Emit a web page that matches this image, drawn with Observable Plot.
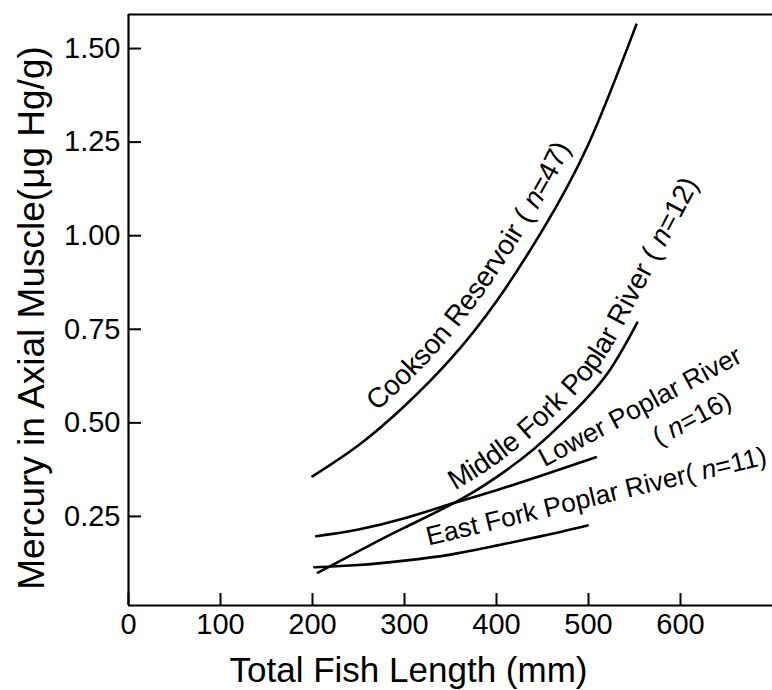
<!DOCTYPE html>
<html>
<head>
<meta charset="utf-8">
<script src="https://cdn.jsdelivr.net/npm/d3@7"></script>
<script src="https://cdn.jsdelivr.net/npm/@observablehq/plot@0.6"></script>
<style>
  html, body { margin: 0; padding: 0; background: #fff; }
  svg { display: block; }
</style>
</head>
<body>
<div id="chart"></div>
<script>
// ---- data ----
const cooksonLength = [200, 250, 300, 350, 400, 450, 500, 552];
const cooksonHg     = [0.357, 0.44, 0.545, 0.67, 0.825, 1.015, 1.245, 1.564];

const middleForkLength = [206, 260, 300, 357, 400, 440, 480, 520, 553];
const middleForkHg     = [0.10, 0.17, 0.22, 0.29, 0.355, 0.429, 0.52, 0.63, 0.768];

const lowerPoplarLength = [204, 250, 300, 350, 400, 450, 508];
const lowerPoplarHg     = [0.197, 0.215, 0.245, 0.283, 0.32, 0.36, 0.408];

const eastForkLength = [202, 250, 300, 350, 400, 450, 499];
const eastForkHg     = [0.114, 0.12, 0.132, 0.148, 0.172, 0.198, 0.226];

const xTicks = [0, 100, 200, 300, 400, 500, 600];
const yTicks = [0.25, 0.50, 0.75, 1.00, 1.25, 1.50];

const xTitle = "Total Fish Length (mm)";
const yTitle = "Mercury in Axial Muscle(\u03bcg Hg/g)";

// ---- build table ----
const toRows = (name, L, H) => L.map((l, i) => ({name, length: l, hg: H[i]}));
const rows = [
  ...toRows("Cookson", cooksonLength, cooksonHg),
  ...toRows("Middle", middleForkLength, middleForkHg),
  ...toRows("Lower", lowerPoplarLength, lowerPoplarHg),
  ...toRows("East", eastForkLength, eastForkHg)
];

const FONT = "'Liberation Sans', Arial, Helvetica, sans-serif";
const W = 772, H = 690, ML = 128, MR = 0, MT = 14, MB = 85;
const PW = W - ML - MR, PH = H - MT - MB;

const plot = Plot.plot({
  width: W, height: H,
  marginLeft: ML, marginRight: MR, marginTop: MT, marginBottom: MB,
  style: {fontFamily: FONT, fontSize: "29px", background: "#fff", color: "#000"},
  x: {domain: [0, 700], ticks: xTicks, tickSize: 0, tickPadding: 8, tickFormat: d => String(d), label: null},
  y: {domain: [0.012, 1.591], ticks: yTicks, tickSize: 0, tickPadding: 8, tickFormat: d => d.toFixed(2), label: null},
  marks: [
    // inward tick marks
    Plot.ruleX(xTicks, {x: d => d, stroke: "#000", strokeWidth: 2, insetTop: PH - 12}),
    Plot.ruleY(yTicks, {y: d => d, stroke: "#000", strokeWidth: 2, insetRight: PW - 13}),
    // frame: left, bottom, top
    Plot.ruleX([0], {stroke: "#000", strokeWidth: 2.2}),
    Plot.ruleY([0.012], {stroke: "#000", strokeWidth: 2.2}),
    Plot.ruleY([1.591], {stroke: "#000", strokeWidth: 2.2}),
    // regression curves
    Plot.line(rows, {x: "length", y: "hg", z: "name", curve: "natural", stroke: "#000", strokeWidth: 2.6}),
    // straight curve labels
    Plot.text([{x: lowerPoplarLength[5], y: lowerPoplarHg[5], t: "Lower Poplar River"}],
      {x: "x", y: "y", text: "t", rotate: -28, textAnchor: "start", lineAnchor: "bottom", dx: 2, dy: -8, fontSize: 26.5, fill: "#000"}),
    Plot.text([{x: lowerPoplarLength[5], y: lowerPoplarHg[5], t: "( n=16)"}],
      {x: "x", y: "y", text: "t", rotate: -28, textAnchor: "start", lineAnchor: "bottom", dx: 116, dy: -29, fontSize: 26.5, fill: "#000"}),
    Plot.text([{x: eastForkLength[2], y: eastForkHg[2], t: "East Fork Poplar River( n=11)"}],
      {x: "x", y: "y", text: "t", rotate: -13.5, textAnchor: "start", lineAnchor: "bottom", dx: 24, dy: -15, fontSize: 26.5, fill: "#000"}),
    // axis titles
    Plot.text([xTitle], {frameAnchor: "bottom", text: d => d, textAnchor: "middle", dx: -42, dy: 76, lineAnchor: "bottom", fontSize: 35, fill: "#000"}),
    Plot.text([yTitle], {frameAnchor: "left", text: d => d, textAnchor: "middle", rotate: -90, dx: -85, dy: 8, lineAnchor: "bottom", fontSize: 37, fill: "#000"})
  ]
});

document.getElementById("chart").appendChild(plot);

// ---- italic "n" in the sample-size labels ----
const NS = "http://www.w3.org/2000/svg";
function italicize(el) {
  const s = el.textContent;
  const parts = s.split(/(n)(?==)/);
  while (el.firstChild) el.removeChild(el.firstChild);
  for (const p of parts) {
    if (!p) continue;
    const t = document.createElementNS(NS, "tspan");
    if (p === "n") t.setAttribute("font-style", "italic");
    t.textContent = p;
    el.appendChild(t);
  }
}
plot.querySelectorAll("text").forEach(el => {
  if (/n=/.test(el.textContent) && el.children.length === 0) italicize(el);
});

// ---- curved labels following Cookson and Middle Fork curves ----
const xs = plot.scale("x"), ys = plot.scale("y");
const defs = document.createElementNS(NS, "defs");
plot.appendChild(defs);

function curvedLabel(id, L, Hg, parts, startOffset, offset, extend, size) {
  const pts = L.map((l, i) => [xs.apply(l), ys.apply(Hg[i])]);
  const d = d3.line().curve(d3.curveNatural)(pts);
  const path = document.createElementNS(NS, "path");
  path.setAttribute("id", id);
  path.setAttribute("d", d);
  path.setAttribute("fill", "none");
  defs.appendChild(path);
  const tot = path.getTotalLength();
  const a = path.getPointAtLength(tot - 2), b = path.getPointAtLength(tot);
  const len = Math.hypot(b.x - a.x, b.y - a.y) || 1;
  const ux = (b.x - a.x) / len, uy = (b.y - a.y) / len;
  path.setAttribute("d", d + `L${b.x + ux * extend},${b.y + uy * extend}`);

  const text = document.createElementNS(NS, "text");
  text.setAttribute("font-size", size);
  text.setAttribute("font-family", FONT);
  text.setAttribute("text-anchor", "start");
  text.setAttribute("fill", "#000");
  const tp = document.createElementNS(NS, "textPath");
  tp.setAttribute("href", "#" + id);
  tp.setAttributeNS("http://www.w3.org/1999/xlink", "xlink:href", "#" + id);
  tp.setAttribute("startOffset", startOffset);
  parts.forEach(([str, it], i) => {
    const t = document.createElementNS(NS, "tspan");
    if (i === 0) t.setAttribute("dy", -offset);
    if (it) t.setAttribute("font-style", "italic");
    t.textContent = str;
    tp.appendChild(t);
  });
  text.appendChild(tp);
  plot.appendChild(text);
}

curvedLabel("cooksonPath", cooksonLength, cooksonHg,
  [["Cookson Reservoir ( ", false], ["n", true], ["=47)", false]], 92, 14, 0, 28);
curvedLabel("middlePath", middleForkLength, middleForkHg,
  [["Middle Fork Poplar River ( ", false], ["n", true], ["=12)", false]], 160, 10, 240, 28);
</script>
</body>
</html>
